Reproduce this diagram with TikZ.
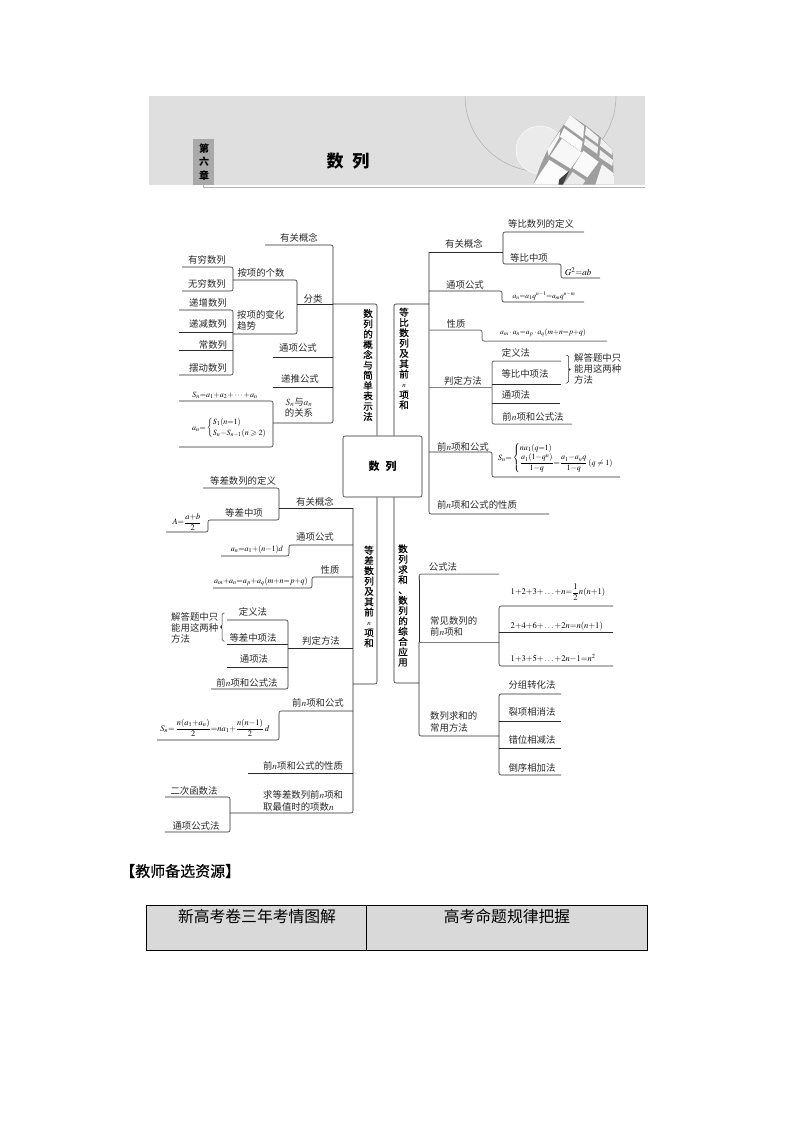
\documentclass[tikz,border=0pt]{standalone}
\usepackage{amsmath,amssymb}
\usepackage{mathptmx}
\usepackage{fontspec}
\setmainfont{Noto Sans CJK SC}
\newfontfamily\vfont[FakeBold=0.35]{Noto Sans CJK SC}
\definecolor{ink}{HTML}{2A2A2A}
\definecolor{band}{HTML}{DFDFDF}
\definecolor{tabc}{HTML}{A9A9A9}
\definecolor{cellc}{HTML}{D9D9D9}
\tikzset{
  tline/.style={draw=ink,line width=0.6pt,rounded corners=2pt},
  gline/.style={draw=black!50,line width=1pt,rounded corners=2pt},
  lbl/.style={inner sep=0pt,text=ink,font=\fontsize{9.4}{11.2}\selectfont,align=left},
  fml/.style={inner sep=0pt,text=black,font=\fontsize{8}{9.5}\selectfont},
  vert/.style={inner sep=0pt,text=black,align=center,font=\fontsize{9.6}{10.3}\selectfont\vfont}
}
\begin{document}
\begin{tikzpicture}[x=1pt,y=-1pt]
\useasboundingbox (0,0) rectangle (794,1123);
\fill[white] (0,0) rectangle (794,1123);
% header band
\fill[band] (149,96) rectangle (644.5,185);
\draw[black!32,line width=0.5pt] (465,96) arc[start angle=180,end angle=0,radius=75.5];
\fill[white!92!black,draw=white] (540,150) circle[radius=24];
\fill[tabc] (193,139) rectangle (214,185);
\draw[black!30,line width=1pt] (203,185) -- (203,187.3) -- (644.5,187.3);
\node[inner sep=0pt,align=center,text=black,font=\fontsize{10}{13.2}\selectfont\bfseries] (chap) at (204,162) {第\\六\\章};
\node[inner sep=0pt,text=black,font=\fontsize{17}{20}\selectfont\bfseries] (title) at (348,161) {数\hspace{9pt}列};
% cube
\begin{scope}[shift={(520,110)},x=0.3333pt,y=-0.3333pt]
\fill[black!38] (40,224) -- (62,165) -- (88,108) -- (150,15) -- (195,45) -- (240,80) -- (278,120) -- (282,224) -- cycle;
\fill[black!3] (150,15) -- (192,48) -- (190,86) -- (132,44) -- cycle;
\fill[black!5] (198,50) -- (236,82) -- (234,102) -- (195,74) -- cycle;
\fill[black!6] (243,85) -- (278,120) -- (277,136) -- (240,107) -- cycle;
\fill[black!2] (132,54) -- (188,95) -- (182,124) -- (120,80) -- cycle;
\fill[black!6] (195,84) -- (234,112) -- (232,132) -- (192,104) -- cycle;
\fill[black!3] (126,86) -- (186,128) -- (152,176) -- (90,138) -- cycle;
\fill[black!2] (190,122) -- (236,156) -- (202,202) -- (158,174) -- cycle;
\fill[black!6] (240,120) -- (279,150) -- (277,168) -- (238,142) -- cycle;
\fill[black!4] (246,163) -- (281,190) -- (282,224) -- (226,224) -- cycle;
\fill[black!1] (62,188) -- (88,150) -- (145,186) -- (120,224) -- (40,224) -- cycle;
\fill[black!8] (158,186) -- (196,212) -- (188,224) -- (130,224) -- cycle;
\fill[black!3] (82,118) -- (120,64) -- (118,82) -- (86,138) -- cycle;
\fill[black!75] (118,208) -- (148,182) -- (128,224) -- (115,224) -- cycle;
\end{scope}
% central node
\node[draw=ink,line width=0.6pt,rounded corners=2pt,minimum width=79pt,minimum height=61pt,inner sep=0pt,font=\fontsize{11}{13}\selectfont\bfseries] (root) at (382.5,466.5) {数\hspace{6pt}列};
% main trunks
\draw[tline] (377,0 |- root.north) -- (377,304) -- (333,304);
\draw[tline] (394,0 |- root.north) -- (394,304) -- (429,304);
\draw[tline] (377,0 |- root.south) -- (377,684) -- (353,684);
\draw[tline] (394,0 |- root.south) -- (394,683) -- (419,683);
% upper left
\draw[tline] (265,245) -- (333,245) -- (333,423) -- (273,423);
\draw[tline] (297,304) -- (333,304);
\draw[tline] (233,280) -- (297,280) -- (297,334) -- (233,334);
\draw[tline] (182,267) -- (233,267) -- (233,291) -- (182,291);
\draw[tline] (179,310) -- (233,310) -- (233,375) -- (179,375);
\draw[tline] (179,332) -- (233,332);
\draw[tline] (179,350) -- (233,350);
\draw[tline] (273,357) -- (333,357);
\draw[tline] (273,387) -- (333,387);
\draw[tline] (179,401) -- (273,401) -- (273,447) -- (179,447);
\node[lbl] (a1) at (299,238) {有关概念};
\node[lbl] (a2) at (261,273) {按项的个数};
\node[lbl] (a3) at (313,299) {分类};
\node[lbl,anchor=west] (a4) at (237,320.5) {按项的变化\\趋势};
\node[lbl] (a5) at (207,260) {有穷数列};
\node[lbl] (a6) at (207,284) {无穷数列};
\node[lbl] (a7) at (208,303) {递增数列};
\node[lbl] (a8) at (208,324) {递减数列};
\node[lbl] (a9) at (213,345) {常数列};
\node[lbl] (a10) at (208,368) {摆动数列};
\node[lbl] (a11) at (298,348) {通项公式};
\node[lbl] (a12) at (300,379) {递推公式};
\node[lbl,align=center] (a13) at (299,407.5) {$S_n$与$a_n$\\的关系};
\node[fml] (a14) at (225,395) {$S_n{=}a_1{+}a_2{+}\cdots{+}a_n$};
\node[fml,anchor=west] (a15) at (192,428) {$a_n{=}\left\{\begin{array}{@{}l@{}}S_1(n{=}1)\\[2pt] S_n{-}S_{n-1}(n\geqslant 2)\end{array}\right.$};
\node[vert] (v1) at (368,365) {数\\列\\的\\概\\念\\与\\简\\单\\表\\示\\法};
\node[vert] (v2) at (404,358.5) {等\\比\\数\\列\\及\\其\\前\\{\fontsize{7}{10.3}\selectfont$n$}\\项\\和};
\node[vert] (v3) at (369,596.5) {等\\差\\数\\列\\及\\其\\前\\{\fontsize{7}{10.3}\selectfont$n$}\\项\\和};
\node[vert] (v4) at (403,605.5) {数\\列\\求\\和\\、\\数\\列\\的\\综\\合\\应\\用};
% upper right
\draw[tline] (429,252) -- (429,514) -- (549,514);
\draw[tline] (429,252) -- (503,252);
\draw[tline] (584,232) -- (503,232) -- (503,264) -- (561,264) -- (561,278) -- (600,278);
\draw[tline] (429,291) -- (502,291) -- (502,302) -- (584,302);
\draw[gline] (429,330) -- (482,330) -- (482,341) -- (607,341);
\draw[gline] (429,387) -- (492,387);
\draw[gline] (561,361) -- (492,361) -- (492,424) -- (572,424);
\draw[tline] (492,384) -- (561,384);
\draw[tline] (492,403) -- (560,403);
\draw[tline] (429,452) -- (492,452) -- (492,477) -- (620,477);
\node[lbl] (b1) at (464,244) {有关概念};
\node[lbl] (b2) at (541,224) {等比数列的定义};
\node[lbl] (b3) at (529,258) {等比中项};
\node[fml] (b4) at (578,272) {\fontsize{9}{10}\selectfont$G^2{=}ab$};
\node[lbl] (b5) at (465,285) {通项公式};
\node[fml] (b6) at (544,296) {\fontsize{7.4}{8}\selectfont$a_n{=}a_1q^{n-1}{=}a_mq^{n-m}$};
\node[lbl] (b7) at (456,324) {性质};
\node[fml] (b8) at (543,333) {\fontsize{7.6}{8}\selectfont$a_m\cdot a_n{=}a_p\cdot a_q(m{+}n{=}p{+}q)$};
\node[lbl] (b9) at (463,381) {判定方法};
\node[lbl] (b10) at (516,353) {定义法};
\node[lbl] (b11) at (525,374) {等比中项法};
\node[lbl] (b12) at (516,395) {通项法};
\node[lbl] (b13) at (533,417) {前$n$项和公式法};
\node[lbl,anchor=west] (b14) at (574,369) {解答题中只\\能用这两种\\方法};
\draw[ink,line width=0.5pt,rounded corners=1.5pt] (565.5,355) -- (568.5,355) -- (568.5,369) -- (570,369.5) -- (568.5,370) -- (568.5,383) -- (565.5,383);
\node[lbl] (b15) at (463,447) {前$n$项和公式};
\node[fml,anchor=west] (b16) at (498,458) {$S_n{=}\left\{\begin{array}{@{}l@{}}na_1(q{=}1)\\[1pt] \dfrac{a_1(1{-}q^n)}{1{-}q}{=}\dfrac{a_1{-}a_nq}{1{-}q}\,(q\neq 1)\end{array}\right.$};
\node[lbl] (b17) at (477,505) {前$n$项和公式的性质};
% lower left
\draw[tline] (353,508) -- (353,813) -- (230,813);
\draw[tline] (353,508) -- (279,508);
\draw[tline] (203,488) -- (279,488) -- (279,520) -- (208,520) -- (208,532) -- (166,532);
\draw[tline] (353,545) -- (289,545) -- (289,556) -- (221,556);
\draw[tline] (353,577) -- (312,577) -- (312,588) -- (213,588);
\draw[tline] (227,620) -- (288,620) -- (288,689) -- (211,689);
\draw[tline] (227,644) -- (288,644);
\draw[tline] (227,667) -- (288,667);
\draw[tline] (288,648) -- (353,648);
\draw[tline] (353,711) -- (279,711) -- (279,740) -- (157,740);
\draw[tline] (248,773) -- (353,773);
\draw[tline] (165,797) -- (230,797) -- (230,832) -- (165,832);
\node[lbl] (c1) at (243,481) {等差数列的定义};
\node[lbl] (c2) at (244,513) {等差中项};
\node[lbl] (c3) at (315,502) {有关概念};
\node[fml] (c4) at (187,522) {\fontsize{8.4}{9}\selectfont$A{=}\dfrac{a{+}b}{2}$};
\node[lbl] (c5) at (315,537) {通项公式};
\node[fml] (c6) at (257,549) {$a_n{=}a_1{+}(n{-}1)d$};
\node[lbl] (c7) at (330,570) {性质};
\node[fml] (c8) at (261,582) {$a_m{+}a_n{=}a_p{+}a_q(m{+}n{=}p{+}q)$};
\node[lbl,anchor=west] (c9) at (171,628) {解答题中只\\能用这两种\\方法};
\draw[ink,line width=0.5pt,rounded corners=1.5pt] (224.5,613) -- (222,613) -- (222,626.5) -- (220.5,627) -- (222,627.5) -- (222,641) -- (224.5,641);
\node[lbl] (c10) at (253,612) {定义法};
\node[lbl] (c11) at (253,638) {等差中项法};
\node[lbl] (c12) at (254,659) {通项法};
\node[lbl] (c13) at (247,683) {前$n$项和公式法};
\node[lbl] (c14) at (321,641) {判定方法};
\node[lbl] (c15) at (318,703) {前$n$项和公式};
\node[fml] (c16) at (215,728) {\fontsize{8.4}{9}\selectfont$S_n{=}\,\dfrac{n(a_1{+}a_n)}{2}{=}na_1{+}\dfrac{n(n{-}1)}{2}\,d$};
\node[lbl] (c17) at (303,766) {前$n$项和公式的性质};
\node[lbl,anchor=west] (c18) at (263,801) {求等差数列前$n$项和\\取最值时的项数$n$};
\node[lbl] (c19) at (194,791) {二次函数法};
\node[lbl] (c20) at (196,826) {通项公式法};
% lower right
\draw[tline] (419,642) -- (419,736) -- (499,736);
\draw[tline] (419,574) -- (419,642);
\draw[gline] (499,574) -- (419,574) -- (419,580);
\draw[gline] (419,642) -- (499,642);
\draw[tline] (613,606) -- (499,606) -- (499,666) -- (613,666);
\draw[tline] (499,632) -- (613,632);
\draw[tline] (561,694) -- (499,694) -- (499,775) -- (561,775);
\draw[tline] (499,721) -- (561,721);
\draw[tline] (499,748) -- (561,748);
\node[lbl] (d1) at (443,567) {公式法};
\node[lbl,anchor=west] (d2) at (430,626.5) {常见数列的\\前$n$项和};
\node[lbl,anchor=west] (d3) at (430,722) {数列求和的\\常用方法};
\node[fml,anchor=west] (d4) at (510.5,592) {\fontsize{8.6}{10}\selectfont$1{+}2{+}3{+}\ldots{+}n{=}\dfrac{1}{2}n(n{+}1)$};
\node[fml,anchor=west] (d5) at (510.5,626) {\fontsize{8.6}{10}\selectfont$2{+}4{+}6{+}\ldots{+}2n{=}n(n{+}1)$};
\node[fml,anchor=west] (d6) at (510.5,658) {\fontsize{8.6}{10}\selectfont$1{+}3{+}5{+}\ldots{+}2n{-}1{=}n^2$};
\node[lbl] (d7) at (532,685) {分组转化法};
\node[lbl] (d8) at (532,712) {裂项相消法};
\node[lbl] (d9) at (532,740) {错位相减法};
\node[lbl] (d10) at (532,768) {倒序相加法};
% bottom
\node[inner sep=0pt,text=black,font=\fontsize{15}{16}\selectfont\vfont,anchor=west] (e1) at (120,871) {【教师备选资源】};
\node[draw=black,fill=cellc,line width=0.7pt,minimum width=220pt,minimum height=45pt,inner sep=0pt,anchor=north west] (e2) at (146,905) {};
\node[draw=black,fill=cellc,line width=0.7pt,minimum width=281pt,minimum height=45pt,inner sep=0pt,anchor=north west] (e3) at (366,905) {};
\node[inner sep=0pt,text=black,font=\fontsize{15.8}{18}\selectfont] (e4) at (257,916) {新高考卷三年考情图解};
\node[inner sep=0pt,text=black,font=\fontsize{15.8}{18}\selectfont] (e5) at (507,916) {高考命题规律把握};
\end{tikzpicture}
\end{document}
